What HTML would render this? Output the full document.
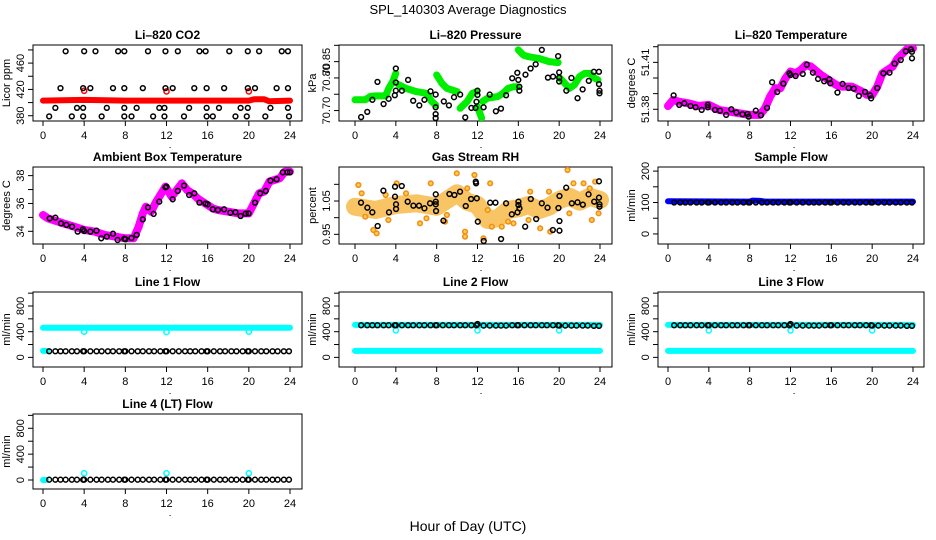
<!DOCTYPE html>
<html><head><meta charset="utf-8"><style>
html,body{margin:0;padding:0;background:#fff;}
svg{display:block;font-family:"Liberation Sans",Arial,sans-serif;}
</style></head><body>
<svg id="chart" width="936" height="540" viewBox="0 0 936 540" xmlns="http://www.w3.org/2000/svg">
<rect width="936" height="540" fill="#fff"/>
<text x="468" y="14" font-size="13" text-anchor="middle">SPL_140303  Average Diagnostics</text>
<text x="468" y="531" font-size="14" text-anchor="middle">Hour of Day (UTC)</text>
</svg>
<script>
// ---------- data ----------
const xTickLabels = [0,4,8,12,16,20,24];

// CO2
const co2BandHours = [0,4,8,12,16,20,20.5,21.5,22,24];
const co2BandValues = [403,404,403,403,403,403,405,405,402,403];
const co2RedHours = [4.0,12.0,20.0];
const co2RedValues = [418,417,417];
const co2PtHours = [2.2,4.0,5.1,7.3,7.9,10.2,11.9,13.1,15.2,15.8,18.1,19.9,21.0,23.2,23.8,
 1.7,3.9,4.6,6.8,7.9,9.7,11.9,12.6,14.7,15.9,17.6,19.9,20.6,22.7,23.8,
 1.2,3.3,3.9,6.2,7.9,9.1,11.3,11.8,14.2,15.9,17.1,19.2,19.9,22.1,23.8,
 0.6,2.8,3.9,5.7,7.9,8.6,10.7,11.8,13.7,15.9,16.5,18.7,19.8,21.6,23.9];
const co2PtValues = [478,478,478,478,478,478,478,478,478,478,478,478,478,478,478,
 422,422,422,422,422,422,422,422,422,422,422,422,422,422,422,
 392,392,392,392,392,392,392,392,392,392,392,392,392,392,392,
 379,379,379,379,379,379,379,379,379,379,379,379,379,379,379];

// Pressure
const presBandHours = [0,1,1.5,2,3,3.3,3.7,4.0,4.0, 4.3,5,6,7,7.5,7.9,7.9, 8.0,8.5,9,10,10,
 10.3,11,11.5,11.9,11.9, 12.0,12.4,12.4, 12.5,13,14,14.5,15,15.5,15.9,15.9, 16.0,16.5,17,18,19,19.9,19.9, 20.1,21,21.5,22,22.5,23,23.5,23.8];
const presBandValues = [70.733,70.733,70.743,70.745,70.745,70.768,70.789,70.814,null,
 70.779,70.768,70.758,70.753,70.728,70.717,null, 70.809,70.784,70.768,70.758,null,
 70.707,70.728,70.753,70.758,null, 70.712,70.677,null,
 70.728,70.738,70.743,70.753,70.768,70.773,70.773,null,
 70.886,70.870,70.865,70.860,70.850,70.847,null,
 70.799,70.768,70.779,70.804,70.814,70.814,70.799,70.794];
const presPtHours = [0.6,1.2,1.7,2.2,2.8,3.3,3.9,4.0,4.0,4.0,4.6,5.2,5.7,6.3,6.8,7.4,7.9,7.9,7.9,7.9,
 8.7,9.2,9.7,10.3,10.8,11.4,11.8,11.9,12.0,12.0,12.6,13.2,13.8,14.3,14.8,15.4,15.9,16.0,16.1,16.1,
 16.7,17.2,17.7,18.3,18.9,19.4,19.9,20.0,20.0,20.0,20.7,21.2,21.8,22.3,22.9,23.4,23.9,23.9,23.95,23.95];
const presPtValues = [70.680,70.696,70.733,70.788,70.720,70.736,70.747,70.829,70.786,70.761,70.761,70.794,70.730,70.716,70.733,70.759,70.749,70.710,70.689,70.677,
 70.728,70.716,70.741,70.749,70.679,70.708,70.708,70.727,70.748,70.761,70.710,70.749,70.698,70.706,70.747,70.799,70.816,70.794,70.773,70.761,
 70.810,70.829,70.842,70.886,70.801,70.804,70.867,70.817,70.801,70.789,70.761,70.800,70.738,70.765,70.791,70.819,70.819,70.781,70.761,70.753];

// Li-820 temperature
const tempBandHours = [0,0.5,1,2,3,4,5,6,7,8,9,9.5,10,10.5,11,11.5,12,12.5,13,13.5,14,15,16,16.5,17,18,19,19.5,20,20.5,21,22,22.5,23,23.5,24];
const tempBandValues = [51.3821,51.3860,51.3849,51.3838,51.3821,51.3828,51.3796,51.3785,51.3774,51.3764,51.3764,51.3806,51.3881,51.3934,51.3934,51.3998,51.4041,51.4030,51.4051,51.4083,51.4073,51.4019,51.3977,51.3955,51.3945,51.3945,51.3913,51.3892,51.3892,51.3945,51.4030,51.4073,51.4126,51.4158,51.4190,51.4190];
const tempPtHours = [0.55,1.1,1.6,2.2,2.7,3.3,3.9,3.9,4.6,5.1,5.7,6.2,6.7,7.3,7.8,7.9,8.6,9.1,9.7,10.2,10.7,11.3,11.9,12.0,12.5,13.2,13.6,14.2,14.7,15.3,15.8,15.9,16.6,17.1,17.7,18.2,18.7,19.3,19.8,19.9,20.5,21.1,21.7,22.2,22.8,23.3,23.8,23.9,23.9];
const tempPtValues = [51.3889,51.3828,51.3838,51.3821,51.3813,51.3796,51.3828,51.3813,51.3796,51.3791,51.3764,51.3800,51.3779,51.3768,51.3770,51.3753,51.3791,51.3762,51.3809,51.3973,51.3911,51.3964,51.4030,51.4019,51.4013,51.4026,51.4085,51.4034,51.3994,51.3979,51.3992,51.3966,51.3907,51.3962,51.3936,51.3932,51.3885,51.3911,51.3889,51.3870,51.3936,51.4030,51.4034,51.4092,51.4115,51.4171,51.4183,51.4168,51.4126];

// Ambient box temperature
const ambBandHours = [0,0.5,1,2,3,4,5,6,7,8,8.8,9.3,9.7,10,10.5,11,11.5,11.9,12.5,13,13.5,14,14.5,15,15.5,16,16.5,17,18,19,20,20.5,21,21.5,22,23,23.5,24];
const ambBandValues = [35.17,34.93,34.81,34.57,34.34,34.10,33.98,33.74,33.62,33.50,33.50,34.34,35.29,35.77,35.41,36.13,36.73,37.21,36.49,36.97,37.45,36.97,36.73,36.37,36.13,35.89,35.65,35.53,35.41,35.29,35.29,36.01,36.73,36.85,37.57,37.81,38.29,38.29];
const ambPtHours = [0.65,1.2,1.75,2.27,2.82,3.37,3.88,4.0,4.6,5.2,5.66,6.2,6.8,7.25,7.9,8.0,8.6,9.1,9.7,10.2,10.75,11.3,11.9,12.0,12.6,13.1,13.7,14.2,14.7,15.2,15.8,16.0,16.5,17.0,17.6,18.2,18.7,19.2,19.7,19.97,20.6,21.1,21.65,22.1,22.7,23.3,23.75,24.0];
const ambPtValues = [34.93,34.98,34.57,34.46,34.34,33.98,34.14,34.02,33.98,34.05,33.50,33.62,33.83,33.38,33.47,33.43,33.52,33.74,34.86,35.72,35.25,36.13,37.16,37.21,36.30,36.90,37.28,36.61,36.73,36.06,35.99,35.94,35.58,35.53,35.58,35.34,35.37,35.10,35.27,35.29,36.06,36.73,36.90,37.64,37.74,38.24,38.24,38.24];

// Gas stream RH
const rhBandHours = [0,2,4,6,8,9,10,11,12,13,14,15,16,17,18,19,20,21,22,23,24];
const rhBandValues = [1.033,1.023,1.038,1.043,1.033,1.053,1.073,1.048,1.038,0.993,0.998,1.023,1.028,1.038,1.023,1.033,1.053,1.063,1.048,1.063,1.053];
const rhDotHours = [0.33,0.65,1.8,2.12,3.27,4.08,6.37,7.42,8.82,9.97,10.78,10.78,11.7,13.24,12.58,13.4,14.38,17.16,19.12,20.82,21.4,22.39,23.53,23.2,23.86,15.52,18.14,1.0,3.0,5.0,7.0,9.0,11.0,13.0,15.0,17.0,19.0,21.0,23.0];
const rhDotValues = [1.098,1.073,0.963,0.953,0.993,1.103,0.983,1.103,0.988,1.133,0.958,0.943,1.128,1.103,0.938,0.973,0.973,1.078,0.958,1.143,1.103,1.103,1.108,0.993,1.013,0.983,0.968,1.003,1.068,1.073,0.998,1.008,1.088,1.023,0.988,0.993,1.078,1.013,1.088];
const rhPtHours = [0.59,1.21,1.70,2.22,2.78,3.33,3.92,3.92,4.02,4.02,4.58,5.16,5.72,6.27,6.80,7.35,7.91,7.91,7.91,7.94,8.66,9.25,9.74,10.29,10.85,11.37,11.83,11.86,11.93,12.03,12.61,13.24,13.76,14.31,14.80,15.36,15.92,16.01,16.01,16.11,16.67,17.22,17.75,18.30,18.86,19.38,19.93,20.03,20.03,20.03,20.69,21.24,21.80,22.32,22.88,23.43,23.9,23.9,23.95,23.95];
const rhPtValues = [1.045,1.030,1.016,0.975,1.081,1.016,1.093,1.063,1.026,1.040,1.095,1.048,1.036,1.036,1.028,1.043,1.070,1.048,1.040,1.020,0.991,1.071,1.068,1.078,1.035,1.056,1.108,1.103,1.058,0.988,0.930,1.045,1.045,0.936,1.043,1.010,1.016,1.048,1.038,1.028,0.973,1.056,0.996,1.043,1.030,0.963,1.029,1.065,0.990,0.961,1.090,1.043,1.046,1.039,1.070,1.048,1.109,1.060,1.040,1.033];

// Flow panels
const flowHours = [0.6,1.2,1.7,2.2,2.8,3.3,3.9,4.0,4.6,5.2,5.7,6.3,6.8,7.4,7.9,8.0,8.6,9.2,9.7,10.3,10.8,11.4,11.9,12.0,12.6,13.2,13.8,14.3,14.8,15.4,15.9,16.0,16.6,17.2,17.7,18.3,18.8,19.4,19.9,20.0,20.6,21.2,21.7,22.3,22.8,23.4,23.9];
const sampleFlowValues = [100,100,100,100,100,100,100,100,100,100,100,100,100,100,100,100,100,100,100,100,100,100,100,100,100,100,100,100,100,100,100,100,100,100,100,100,100,100,100,100,100,100,100,100,100,100,100];
const line1FlowValues = [95,95,95,95,95,95,95,95,95,95,95,95,95,95,95,95,95,95,95,95,95,95,95,95,95,95,95,95,95,95,95,95,95,95,95,95,95,95,95,95,95,95,95,95,95,95,95];
const line2FlowValues = [500,500,500,500,500,500,500,500,500,500,500,500,500,500,500,500,500,500,500,500,500,500,500,520,495,495,495,495,495,500,500,500,500,500,500,500,500,500,500,495,495,495,495,495,495,490,490];
const line3FlowValues = [500,500,500,500,500,500,500,500,500,500,500,500,500,500,500,500,500,500,500,500,500,500,500,520,495,495,495,495,495,500,500,500,500,500,500,500,500,500,500,495,495,495,495,495,495,490,490];
const line4FlowValues = [5,5,5,5,5,5,5,5,5,5,5,5,5,5,5,5,5,5,5,5,5,5,5,5,5,5,5,5,5,5,5,5,5,5,5,5,5,5,5,5,5,5,5,5,5,5,5];
const sampleBandHours = [0,8,8.3,9,9.5,24];
const sampleBandValues = [104,103,106,105,103,103];
const line1BandHours = [0,24];
const line1BandValues = [460,460];
const line1LowHours = [0,0.4];
const line1LowValues = [100,100];
const line2BandHours = [0,24];
const line2BandValues = [505,505];
const line2LowHours = [0,24];
const line2LowValues = [100,100];
const line3BandHours = [0,24];
const line3BandValues = [505,505];
const line3LowHours = [0,24];
const line3LowValues = [100,100];
const line4BandHours = [0,0.3];
const line4BandValues = [0,0];
const spikeHours = [4,12,20];
const line1SpikeValues = [400,395,400];
const line2SpikeValues = [420,420,420];
const line3SpikeValues = [420,420,420];
const line4SpikeValues = [105,105,105];

// ---------- drawing ----------
const NS = "http://www.w3.org/2000/svg";
const svg = document.getElementById("chart");
function mk(tag, attrs, parent){ const e=document.createElementNS(NS,tag); for(const k in attrs) e.setAttribute(k,attrs[k]); parent.appendChild(e); return e; }

const cols = [
 {left:33,right:302,x0:43,x24:290},
 {left:339,right:612,x0:355,x24:600},
 {left:658,right:924,x0:668,x24:913}];
const rows = [{top:45,bottom:121},{top:167,bottom:244},{top:292,bottom:367},{top:414,bottom:489}];

function makePanel(name, title, col, row, yMin, yMax, yTicks, yLabels, yTitle){
  const c=cols[col], r=rows[row];
  const g=mk("g",{},svg);
  
  
  const sx=h=>c.x0+(h/24)*(c.x24-c.x0);
  const sy=v=>r.bottom-(v-yMin)/(yMax-yMin)*(r.bottom-r.top);
  const t=mk("text",{x:(c.left+c.right)/2,y:r.top-6,"font-size":"12","font-weight":"bold","text-anchor":"middle"},g);
  t.textContent=title;
  
  
  const box=mk("rect",{x:c.left,y:r.top,width:c.right-c.left,height:r.bottom-r.top,fill:"none",stroke:"#000","stroke-width":"1"},g);
  
  
  const xa=mk("g",{},g);
  
  
  xTickLabels.forEach(h=>{
    mk("line",{x1:sx(h),x2:sx(h),y1:r.bottom,y2:r.bottom+5,stroke:"#000"},xa);
    const tl=mk("text",{x:sx(h),y:r.bottom+18,"font-size":"11","text-anchor":"middle"},xa);
    tl.textContent=h;
  });
  mk("rect",{x:sx(12.3),y:r.bottom+26,width:1,height:1,fill:"#000"},xa);
  const ya=mk("g",{},g);
  
  
  yTicks.forEach(v=>{
    const y=sy(v); if(y<r.top-1||y>r.bottom+1) return;
    mk("line",{x1:c.left-5,x2:c.left,y1:y,y2:y,stroke:"#000"},ya);
  });
  yLabels.forEach(v=>{
    const y=sy(v);
    const tl=mk("text",{x:0,y:0,"font-size":"11","text-anchor":"middle",transform:`translate(${c.left-9},${y}) rotate(-90)`},ya);
    tl.textContent=v;
  });
  const yt=mk("text",{x:0,y:0,"font-size":"11","text-anchor":"middle",transform:`translate(${c.left-23},${(r.top+r.bottom)/2}) rotate(-90)`},g);
  yt.textContent=yTitle;
  
  
  const clipId="clip-"+name;
  const cp=mk("clipPath",{id:clipId},g);
  mk("rect",{x:c.left,y:r.top,width:c.right-c.left,height:r.bottom-r.top},cp);
  const plot=mk("g",{"clip-path":`url(#${clipId})`},g);
  return {sx,sy,plot};
}
function band(p, hours, values, color, width, name, opacity){
  let d="", pen=false;
  hours.forEach((h,i)=>{
    const v=values[i];
    if(v===null||v===undefined){pen=false;return;}
    d+=(pen?"L":"M")+p.sx(h).toFixed(1)+","+p.sy(v).toFixed(1);
    pen=true;
  });
  const e=mk("path",{d:d,fill:"none",stroke:color,"stroke-width":width,"stroke-linecap":"round","stroke-linejoin":"round","stroke-opacity":opacity||1},p.plot);
  
  
}
function points(p, hours, values, color, r, sw, name, fill){
  const g=mk("g",{},p.plot);
  
  
  hours.forEach((h,i)=>{
    const c=mk("circle",{cx:p.sx(h),cy:p.sy(values[i]),r:r,fill:fill||"none",stroke:color,"stroke-width":sw},g);
    
    
  });
}

// CO2
let p=makePanel("co2-panel","Li\u2013820 CO2",0,0,372,487.5,[380,400,420,440,460,480],[380,420,460],"Licor ppm");
band(p,co2BandHours,co2BandValues,"#ff0000",6,"co2-band");
points(p,co2RedHours,co2RedValues,"#ff0000",2.6,1.5,"co2-red-points");
points(p,co2PtHours,co2PtValues,"#000",2.4,1.5,"co2-points");

// Pressure
p=makePanel("pressure-panel","Li\u2013820 Pressure",1,0,70.668,70.901,[70.70,70.75,70.80,70.85,70.90],["70.70","70.80","70.85"],"kPa");
band(p,presBandHours,presBandValues,"#00ee00",7,"pressure-band");
points(p,presPtHours,presPtValues,"#000",2.4,1.5,"pressure-points");

// Temperature
p=makePanel("temperature-panel","Li\u2013820 Temperature",2,0,51.3725,51.4211,[51.38,51.39,51.40,51.41,51.42],["51.38","51.41"],"degrees C");
band(p,tempBandHours,tempBandValues,"#ff00ff",8,"temperature-band");
points(p,tempPtHours,tempPtValues,"#000",2.4,1.5,"temperature-points");

// Ambient
p=makePanel("ambient-panel","Ambient Box Temperature",0,1,33.09,38.62,[34,35,36,37,38],[34,36,38],"degrees C");
band(p,ambBandHours,ambBandValues,"#ff00ff",8,"ambient-band");
points(p,ambPtHours,ambPtValues,"#000",2.4,1.5,"ambient-points");

// RH
p=makePanel("rh-panel","Gas Stream RH",1,1,0.921,1.152,[0.95,1.00,1.05,1.10],["0.95","1.05"],"percent");
band(p,rhBandHours,rhBandValues,"#f5b030",18,"rh-band",0.75);
points(p,rhDotHours,rhDotValues,"#f09020",2.3,1.6,"rh-scatter","#ffd040");
points(p,rhPtHours,rhPtValues,"#000",2.4,1.5,"rh-points");

// Sample flow
p=makePanel("sample-flow-panel","Sample Flow",2,1,-32,213,[0,50,100,150,200],[0,100,200],"ml/min");
band(p,sampleBandHours,sampleBandValues,"#0000ff",6,"sample-flow-band");
points(p,flowHours,sampleFlowValues,"#000",2.4,1.5,"sample-flow-points");

// Line flows
const flowTicks=[0,200,400,600,800,1000], flowLabels=[0,400,800];
p=makePanel("line1-flow-panel","Line 1 Flow",0,2,-150,1018,flowTicks,flowLabels,"ml/min");
band(p,line1BandHours,line1BandValues,"#00ffff",6,"line1-high-band");
band(p,line1LowHours,line1LowValues,"#00ffff",6,"line1-low-band");
points(p,spikeHours,line1SpikeValues,"#00ffff",2.6,1.5,"line1-spikes");
points(p,flowHours,line1FlowValues,"#000",2.4,1.5,"line1-points");

p=makePanel("line2-flow-panel","Line 2 Flow",1,2,-150,1018,flowTicks,flowLabels,"ml/min");
band(p,line2BandHours,line2BandValues,"#00ffff",6,"line2-high-band");
band(p,line2LowHours,line2LowValues,"#00ffff",6,"line2-low-band");
points(p,spikeHours,line2SpikeValues,"#00ffff",2.6,1.5,"line2-spikes");
points(p,flowHours,line2FlowValues,"#000",2.4,1.5,"line2-points");

p=makePanel("line3-flow-panel","Line 3 Flow",2,2,-150,1018,flowTicks,flowLabels,"ml/min");
band(p,line3BandHours,line3BandValues,"#00ffff",6,"line3-high-band");
band(p,line3LowHours,line3LowValues,"#00ffff",6,"line3-low-band");
points(p,spikeHours,line3SpikeValues,"#00ffff",2.6,1.5,"line3-spikes");
points(p,flowHours,line3FlowValues,"#000",2.4,1.5,"line3-points");

p=makePanel("line4-flow-panel","Line 4 (LT) Flow",0,3,-139,1021,flowTicks,flowLabels,"ml/min");
band(p,line4BandHours,line4BandValues,"#00ffff",6,"line4-band");
points(p,spikeHours,line4SpikeValues,"#00ffff",2.6,1.5,"line4-spikes");
points(p,flowHours,line4FlowValues,"#000",2.4,1.5,"line4-points");
</script>
</body></html>
